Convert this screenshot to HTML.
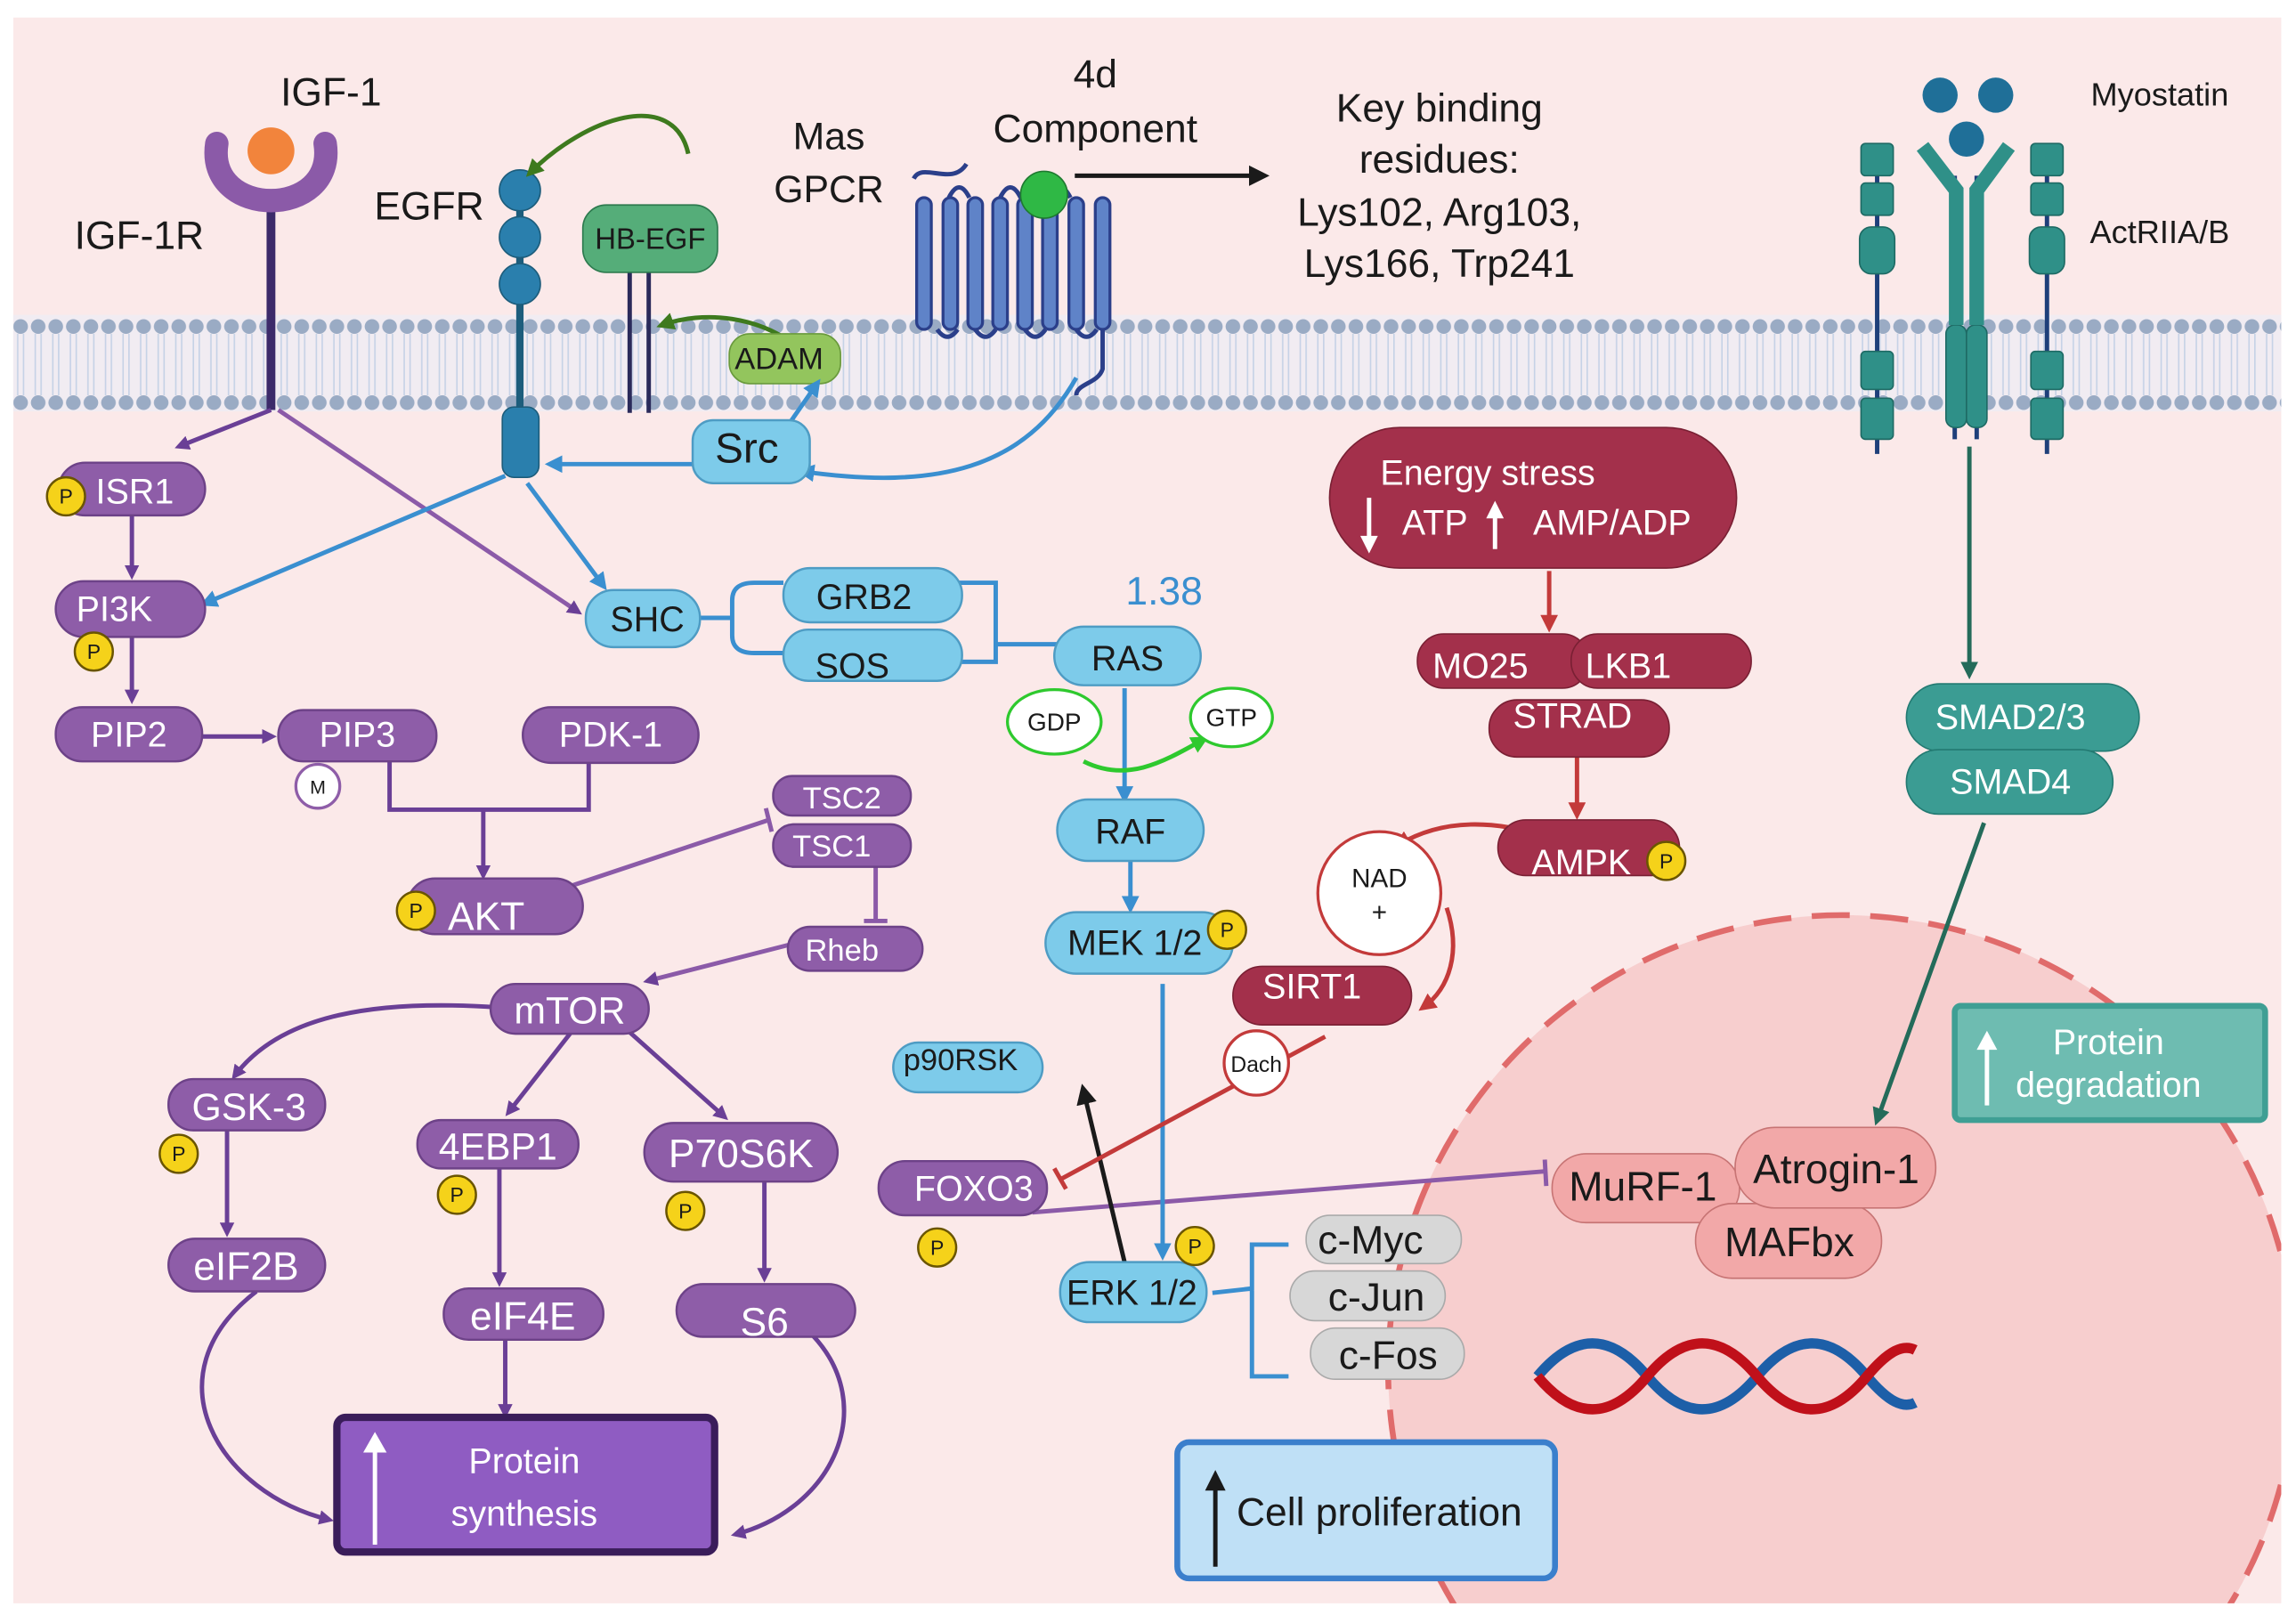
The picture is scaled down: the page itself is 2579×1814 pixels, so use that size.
<!DOCTYPE html>
<html><head><meta charset="utf-8"><style>
html,body{margin:0;padding:0;background:#fff;overflow:hidden;width:2579px;height:1814px;}
svg{display:block;font-family:"Liberation Sans",sans-serif;overflow:hidden;}
.w{fill:#fff;font-size:24px;text-anchor:middle;}
.d{fill:#1a1a1a;text-anchor:middle;}
</style></head><body>
<svg width="2579" height="1814" viewBox="0 0 1568 1103" xmlns="http://www.w3.org/2000/svg">
<defs>
<pattern id="heads" x="8" y="0" width="12" height="1103" patternUnits="userSpaceOnUse">
<circle cx="6" cy="223" r="5" fill="#9aabc4"/>
<circle cx="6" cy="275" r="5" fill="#9aabc4"/>
<line x1="4" y1="228" x2="4" y2="270" stroke="#c6d2e6" stroke-width="1"/>
<line x1="8" y1="228" x2="8" y2="270" stroke="#c6d2e6" stroke-width="1"/>
</pattern>
<clipPath id="bg"><rect x="9" y="12" width="1549" height="1083"/></clipPath>
<marker id="ap" markerWidth="10" markerHeight="10" refX="7" refY="5" orient="auto" markerUnits="userSpaceOnUse"><path d="M0,0 L10,5 L0,10 z" fill="#6a3f96"/></marker>
<marker id="ab" markerWidth="12" markerHeight="12" refX="8" refY="6" orient="auto" markerUnits="userSpaceOnUse"><path d="M0,0 L12,6 L0,12 z" fill="#3a8fd0"/></marker>
<marker id="ag" markerWidth="12" markerHeight="12" refX="8" refY="6" orient="auto" markerUnits="userSpaceOnUse"><path d="M0,0 L12,6 L0,12 z" fill="#3e7a1e"/></marker>
<marker id="ar" markerWidth="12" markerHeight="12" refX="8" refY="6" orient="auto" markerUnits="userSpaceOnUse"><path d="M0,0 L12,6 L0,12 z" fill="#c33a3a"/></marker>
<marker id="at" markerWidth="12" markerHeight="12" refX="8" refY="6" orient="auto" markerUnits="userSpaceOnUse"><path d="M0,0 L12,6 L0,12 z" fill="#246b5a"/></marker>
<marker id="ak" markerWidth="14" markerHeight="14" refX="9" refY="7" orient="auto" markerUnits="userSpaceOnUse"><path d="M0,0 L14,7 L0,14 z" fill="#1a1a1a"/></marker>
<marker id="agg" markerWidth="12" markerHeight="12" refX="8" refY="6" orient="auto" markerUnits="userSpaceOnUse"><path d="M0,0 L12,6 L0,12 z" fill="#2ec92e"/></marker>
</defs>
<rect x="0" y="0" width="1568" height="1103" fill="#fff"/>
<rect x="9" y="12" width="1549" height="1083" fill="#fbe9e9"/>
<rect x="9" y="215" width="1549" height="66" fill="#f1ecf2"/>
<rect x="9" y="215" width="1549" height="66" fill="url(#heads)"/>

<!-- nucleus -->
<g clip-path="url(#bg)">
<circle cx="1258" cy="935" r="310" fill="#f6c4c4" fill-opacity="0.75" stroke="#e06b6b" stroke-width="4" stroke-dasharray="26 14"/>
</g>

<!-- IGF-1R -->
<line x1="185" y1="140" x2="185" y2="280" stroke="#3c2a6a" stroke-width="6"/>
<path d="M148,98 C140,150 230,150 222,98" fill="none" stroke="#8b5aa8" stroke-width="16" stroke-linecap="round"/>
<circle cx="185" cy="103" r="16" fill="#f2843c"/>
<text x="226" y="72" class="d" font-size="27">IGF-1</text>
<text x="95" y="170" class="d" font-size="27">IGF-1R</text>

<!-- EGFR -->
<line x1="355" y1="130" x2="355" y2="310" stroke="#1d5d7c" stroke-width="5"/>
<circle cx="355" cy="130" r="14" fill="#2a7fad" stroke="#1d5d7c"/>
<circle cx="355" cy="162" r="14" fill="#2a7fad" stroke="#1d5d7c"/>
<circle cx="355" cy="194" r="14" fill="#2a7fad" stroke="#1d5d7c"/>
<rect x="343" y="278" width="25" height="48" rx="8" fill="#2a7fad" stroke="#1d5d7c"/>
<text x="293" y="150" class="d" font-size="27">EGFR</text>

<!-- HB-EGF -->
<line x1="430" y1="180" x2="430" y2="282" stroke="#2a2a5a" stroke-width="3"/>
<line x1="443" y1="180" x2="443" y2="282" stroke="#2a2a5a" stroke-width="3"/>
<rect x="398" y="140" width="92" height="46" rx="16" fill="#55ad79" stroke="#2d7a4e"/>
<text x="444" y="170" class="d" font-size="20">HB-EGF</text>
<path d="M470,105 C460,60 400,80 362,118" fill="none" stroke="#3e7a1e" stroke-width="3" marker-end="url(#ag)"/>
<path d="M548,240 C520,215 480,212 452,222" fill="none" stroke="#3e7a1e" stroke-width="3" marker-end="url(#ag)"/>
<rect x="498" y="228" width="76" height="34" rx="14" fill="#93c55d" stroke="#6a9a3d"/>
<text x="532" y="252" class="d" font-size="21">ADAM</text>

<!-- GPCR -->
<text x="566" y="102" class="d" font-size="26">Mas</text>
<text x="566" y="138" class="d" font-size="26">GPCR</text>
<text x="748" y="60" class="d" font-size="27">4d</text>
<text x="748" y="97" class="d" font-size="27">Component</text>
<path d="M624,122 C630,110 650,128 660,112" fill="none" stroke="#2b3f8a" stroke-width="3"/>
<g fill="#5f83c8" stroke="#2b3f8a" stroke-width="2">
<rect x="626" y="135" width="10" height="90" rx="5"/><rect x="644" y="135" width="10" height="90" rx="5"/>
<rect x="661" y="135" width="10" height="90" rx="5"/><rect x="678" y="135" width="10" height="90" rx="5"/>
<rect x="695" y="135" width="10" height="90" rx="5"/><rect x="712" y="135" width="10" height="90" rx="5"/>
<rect x="730" y="135" width="10" height="90" rx="5"/><rect x="748" y="135" width="10" height="90" rx="5"/>
</g>
<path d="M640,225 q7,10 14,0 M666,225 q7,10 14,0 M700,225 q7,10 14,0 M735,225 q7,10 14,0 M648,135 q7,-14 14,0 M683,135 q7,-14 14,0 M717,135 q7,-14 14,0" fill="none" stroke="#2b3f8a" stroke-width="3"/>
<path d="M753,225 L753,252 C750,262 735,262 735,270" fill="none" stroke="#2b3f8a" stroke-width="3"/>
<circle cx="713" cy="133" r="16" fill="#2fb845" stroke="#1f7a30"/>
<line x1="734" y1="120" x2="862" y2="120" stroke="#1a1a1a" stroke-width="3" marker-end="url(#ak)"/>
<text x="983" y="83" class="d" font-size="27">Key binding</text>
<text x="983" y="118" class="d" font-size="27">residues:</text>
<text x="983" y="154" class="d" font-size="27">Lys102, Arg103,</text>
<text x="983" y="189" class="d" font-size="27">Lys166, Trp241</text>

<!-- Myostatin -->
<circle cx="1325" cy="65" r="12" fill="#1f6f98"/><circle cx="1363" cy="65" r="12" fill="#1f6f98"/><circle cx="1343" cy="95" r="12" fill="#1f6f98"/>
<text x="1475" y="72" class="d" font-size="22">Myostatin</text>
<text x="1475" y="166" class="d" font-size="22">ActRIIA/B</text>
<g stroke="#1e3f7a" stroke-width="3"><line x1="1282" y1="100" x2="1282" y2="310"/><line x1="1398" y1="100" x2="1398" y2="310"/><line x1="1335" y1="120" x2="1335" y2="300"/><line x1="1350" y1="120" x2="1350" y2="300"/></g>
<g fill="#2f9088" stroke="#1e6a64">
<rect x="1271" y="98" width="22" height="22" rx="3"/><rect x="1271" y="125" width="22" height="22" rx="3"/><rect x="1270" y="155" width="24" height="32" rx="8"/><rect x="1271" y="240" width="22" height="26" rx="3"/><rect x="1271" y="272" width="22" height="28" rx="3"/>
<rect x="1387" y="98" width="22" height="22" rx="3"/><rect x="1387" y="125" width="22" height="22" rx="3"/><rect x="1386" y="155" width="24" height="32" rx="8"/><rect x="1387" y="240" width="22" height="26" rx="3"/><rect x="1387" y="272" width="22" height="28" rx="3"/>
<rect x="1329" y="222" width="14" height="70" rx="6"/><rect x="1343" y="222" width="14" height="70" rx="6"/>
</g>
<path d="M1313,100 L1336,130 L1336,222 M1372,100 L1350,130 L1350,222" fill="none" stroke="#2f9088" stroke-width="10"/>
<line x1="1345" y1="305" x2="1345" y2="460" stroke="#246b5a" stroke-width="3" marker-end="url(#at)"/>

<!-- connectors purple -->
<g stroke="#6a3f96" stroke-width="3" fill="none">
<line x1="185" y1="280" x2="122" y2="305" marker-end="url(#ap)"/>
<line x1="190" y1="280" x2="395" y2="418" stroke="#8b5aa8" marker-end="url(#ap)"/>
<line x1="90" y1="352" x2="90" y2="393" marker-end="url(#ap)"/>
<line x1="90" y1="435" x2="90" y2="478" marker-end="url(#ap)"/>
<line x1="138" y1="503" x2="186" y2="503" marker-end="url(#ap)"/>
<path d="M266,520 L266,553 L402,553 L402,520"/>
<line x1="330" y1="553" x2="330" y2="598" marker-end="url(#ap)"/>
<line x1="390" y1="605" x2="525" y2="560" stroke="#8b5aa8"/><line x1="523" y1="552" x2="527" y2="568" stroke="#8b5aa8"/>
<line x1="598" y1="592" x2="598" y2="628" stroke="#8b5aa8"/><line x1="590" y1="629" x2="606" y2="629" stroke="#8b5aa8"/>
<line x1="540" y1="645" x2="442" y2="670" stroke="#8b5aa8" marker-end="url(#ap)"/>
<path d="M340,688 C250,682 190,695 160,735" marker-end="url(#ap)"/>
<line x1="390" y1="705" x2="347" y2="760" marker-end="url(#ap)"/>
<line x1="430" y1="705" x2="495" y2="763" marker-end="url(#ap)"/>
<line x1="155" y1="772" x2="155" y2="842" marker-end="url(#ap)"/>
<line x1="341" y1="798" x2="341" y2="876" marker-end="url(#ap)"/>
<line x1="522" y1="807" x2="522" y2="873" marker-end="url(#ap)"/>
<line x1="345" y1="915" x2="345" y2="966" marker-end="url(#ap)"/>
<path d="M175,882 C100,940 150,1020 225,1038" marker-end="url(#ap)"/>
<path d="M555,912 C600,960 570,1030 502,1048" marker-end="url(#ap)"/>
<line x1="705" y1="828" x2="1055" y2="800" stroke="#8b5aa8"/><line x1="1055" y1="792" x2="1056" y2="810" stroke="#8b5aa8"/>
</g>
<!-- blue connectors -->
<g stroke="#3a8fd0" stroke-width="3" fill="none">
<line x1="475" y1="317" x2="376" y2="317" marker-end="url(#ab)"/>
<line x1="535" y1="295" x2="558" y2="262" marker-end="url(#ab)"/>
<path d="M735,258 C700,320 640,335 548,322" marker-end="url(#ab)"/>
<line x1="345" y1="325" x2="140" y2="412" marker-end="url(#ab)"/>
<line x1="360" y1="330" x2="412" y2="400" marker-end="url(#ab)"/>
<path d="M478,422 L500,422 M515,398 Q500,398 500,410 L500,434 Q500,446 515,446 L535,446 M515,398 L535,398"/>
<path d="M645,398 L680,398 L680,440 L722,440 M645,452 L680,452 L680,440"/>
<line x1="768" y1="470" x2="768" y2="545" marker-end="url(#ab)"/>
<path d="M740,520 C770,535 795,520 822,505" stroke="#2ec92e" marker-end="url(#agg)"/>
<line x1="772" y1="588" x2="772" y2="620" marker-end="url(#ab)"/>
<line x1="794" y1="672" x2="794" y2="857" marker-end="url(#ab)"/>
<path d="M880,850 L855,850 L855,880 L828,883 M855,880 L855,940 L880,940"/>
</g>
<line x1="768" y1="862" x2="740" y2="745" stroke="#1a1a1a" stroke-width="3" marker-end="url(#ak)"/>
<!-- red connectors -->
<g stroke="#c33a3a" stroke-width="3" fill="none">
<line x1="1058" y1="390" x2="1058" y2="428" marker-end="url(#ar)"/>
<line x1="1077" y1="517" x2="1077" y2="556" marker-end="url(#ar)"/>
<path d="M1030,565 C1000,560 975,565 955,577" marker-end="url(#ar)"/>
<path d="M988,620 C998,650 990,675 972,688" marker-end="url(#ar)"/>
<line x1="905" y1="708" x2="725" y2="805"/><line x1="720" y1="798" x2="728" y2="812"/>
</g>
<line x1="1355" y1="562" x2="1282" y2="765" stroke="#246b5a" stroke-width="3" marker-end="url(#at)"/>

<!-- purple nodes -->
<g fill="#8e5da8" stroke="#6d4288" stroke-width="1.5">
<rect x="40" y="316" width="100" height="36" rx="18"/>
<rect x="38" y="397" width="102" height="38" rx="19"/>
<rect x="38" y="483" width="100" height="37" rx="18"/>
<rect x="190" y="485" width="108" height="35" rx="17"/>
<rect x="357" y="483" width="120" height="38" rx="19"/>
<rect x="528" y="530" width="94" height="27" rx="13"/>
<rect x="528" y="563" width="94" height="29" rx="14"/>
<rect x="278" y="600" width="120" height="38" rx="19"/>
<rect x="538" y="633" width="92" height="30" rx="15"/>
<rect x="335" y="672" width="108" height="34" rx="17"/>
<rect x="115" y="737" width="107" height="35" rx="17"/>
<rect x="285" y="765" width="110" height="33" rx="16"/>
<rect x="440" y="767" width="132" height="40" rx="20"/>
<rect x="115" y="846" width="107" height="36" rx="18"/>
<rect x="303" y="880" width="109" height="35" rx="17"/>
<rect x="462" y="877" width="122" height="36" rx="18"/>
<rect x="600" y="793" width="115" height="37" rx="18"/>
</g>
<g class="w">
<text x="92" y="344">ISR1</text><text x="78" y="424">PI3K</text><text x="88" y="510">PIP2</text>
<text x="244" y="510">PIP3</text><text x="417" y="510">PDK-1</text>
<text x="575" y="552" font-size="21">TSC2</text><text x="568" y="585" font-size="21">TSC1</text>
<text x="332" y="635" font-size="27">AKT</text><text x="575" y="656" font-size="21">Rheb</text>
<text x="389" y="699" font-size="26">mTOR</text><text x="170" y="765" font-size="26">GSK-3</text>
<text x="340" y="792" font-size="26">4EBP1</text><text x="506" y="797" font-size="27">P70S6K</text>
<text x="168" y="874" font-size="27">eIF2B</text><text x="357" y="908" font-size="27">eIF4E</text>
<text x="522" y="912" font-size="27">S6</text><text x="665" y="820">FOXO3</text>
</g>
<rect x="230" y="968" width="258" height="92" rx="6" fill="#8f5cc2" stroke="#3a1d5a" stroke-width="5"/>
<line x1="256" y1="1055" x2="256" y2="990" stroke="#fff" stroke-width="3"/><path d="M248,992 L256,978 L264,992z" fill="#fff"/>
<text x="358" y="1006" class="w" font-size="27">Protein</text><text x="358" y="1042" class="w" font-size="27">synthesis</text>

<!-- blue nodes -->
<g fill="#7dcbea" stroke="#4e9cc4" stroke-width="1.5">
<rect x="473" y="287" width="80" height="43" rx="14"/>
<rect x="400" y="403" width="78" height="39" rx="19"/>
<rect x="535" y="388" width="122" height="37" rx="18"/>
<rect x="535" y="430" width="122" height="35" rx="17"/>
<rect x="720" y="428" width="100" height="40" rx="20"/>
<rect x="722" y="546" width="100" height="42" rx="21"/>
<rect x="714" y="623" width="128" height="42" rx="21"/>
<rect x="724" y="862" width="100" height="41" rx="20"/>
<rect x="610" y="712" width="102" height="34" rx="17"/>
</g>
<g class="d" font-size="24">
<text x="510" y="316" font-size="29">Src</text><text x="442" y="431">SHC</text>
<text x="590" y="416">GRB2</text><text x="582" y="463">SOS</text><text x="770" y="458">RAS</text>
<text x="772" y="576">RAF</text><text x="775" y="652">MEK 1/2</text><text x="773" y="891">ERK 1/2</text>
<text x="656" y="731" font-size="21">p90RSK</text>
</g>
<text x="795" y="413" fill="#3a8fd0" font-size="27" text-anchor="middle">1.38</text>
<ellipse cx="720" cy="493" rx="32" ry="22" fill="#fff" stroke="#2ec92e" stroke-width="2"/><text x="720" y="499" class="d" font-size="17">GDP</text>
<ellipse cx="841" cy="490" rx="28" ry="20" fill="#fff" stroke="#2ec92e" stroke-width="2"/><text x="841" y="496" class="d" font-size="17">GTP</text>

<!-- gray -->
<g fill="#d7d7d7" stroke="#aaa"><rect x="892" y="830" width="106" height="33" rx="16"/><rect x="881" y="868" width="106" height="34" rx="17"/><rect x="895" y="907" width="105" height="35" rx="17"/></g>
<g class="d" font-size="27"><text x="936" y="856">c-Myc</text><text x="940" y="895">c-Jun</text><text x="948" y="935">c-Fos</text></g>

<!-- red nodes -->
<rect x="908" y="292" width="278" height="96" rx="48" fill="#a3304b" stroke="#7a2034"/>
<text x="1016" y="331" class="w" font-size="26">Energy stress</text>
<text x="980" y="365" class="w" font-size="26">ATP</text>
<text x="1101" y="365" class="w" font-size="26">AMP/ADP</text>
<g stroke="#fff" stroke-width="3"><line x1="935" y1="340" x2="935" y2="370"/><line x1="1021" y1="350" x2="1021" y2="375"/></g>
<path d="M929,366 L935,378 L941,366z M1015,354 L1021,342 L1027,354z" fill="#fff"/>
<g fill="#a3304b" stroke="#7a2034">
<rect x="968" y="433" width="117" height="37" rx="18"/><rect x="1073" y="433" width="123" height="37" rx="18"/>
<rect x="1017" y="478" width="123" height="39" rx="19"/><rect x="1023" y="560" width="124" height="38" rx="19"/>
<rect x="842" y="660" width="122" height="40" rx="20"/>
</g>
<g class="w" font-size="21"><text x="1011" y="463">MO25</text><text x="1112" y="463">LKB1</text><text x="1074" y="497">STRAD</text><text x="1080" y="597">AMPK</text><text x="896" y="682">SIRT1</text></g>
<circle cx="942" cy="610" r="42" fill="#fff" stroke="#c33a3a" stroke-width="2"/>
<text x="942" y="606" class="d" font-size="18">NAD</text><text x="942" y="629" class="d" font-size="18">+</text>
<circle cx="858" cy="726" r="22" fill="#fff" stroke="#c33a3a" stroke-width="2"/><text x="858" y="732" class="d" font-size="15">Dach</text>

<!-- teal -->
<rect x="1302" y="467" width="159" height="46" rx="23" fill="#3b9c93" stroke="#237a72"/>
<rect x="1302" y="512" width="141" height="44" rx="22" fill="#3b9c93" stroke="#237a72"/>
<text x="1373" y="498" class="w" font-size="27">SMAD2/3</text><text x="1373" y="542" class="w" font-size="27">SMAD4</text>
<rect x="1335" y="687" width="212" height="78" rx="4" fill="#6ebcb1" stroke="#3f9f94" stroke-width="4"/>
<line x1="1357" y1="755" x2="1357" y2="715" stroke="#fff" stroke-width="3"/><path d="M1350,717 L1357,704 L1364,717z" fill="#fff"/>
<text x="1440" y="720" class="w" font-size="24">Protein</text><text x="1440" y="749" class="w" font-size="24">degradation</text>

<!-- E3 ligases -->
<g fill="#f2a8a8" stroke="#c77474"><rect x="1060" y="788" width="128" height="47" rx="23"/><rect x="1158" y="822" width="127" height="51" rx="25"/><rect x="1185" y="770" width="137" height="55" rx="27"/></g>
<g class="d" font-size="28"><text x="1122" y="820">MuRF-1</text><text x="1254" y="808">Atrogin-1</text><text x="1222" y="858">MAFbx</text></g>
<!-- DNA -->
<path d="M1050,940 C1075,910 1100,910 1125,940 C1150,970 1175,970 1200,940 C1225,910 1250,910 1275,940 C1290,958 1300,962 1308,958" fill="none" stroke="#1d5fa8" stroke-width="7"/>
<path d="M1050,940 C1075,970 1100,970 1125,940 C1150,910 1175,910 1200,940 C1225,970 1250,970 1275,940 C1290,922 1300,918 1308,922" fill="none" stroke="#c0101a" stroke-width="7"/>

<!-- Cell proliferation -->
<rect x="804" y="985" width="258" height="93" rx="8" fill="#bfe0f6" stroke="#3b7fcc" stroke-width="4"/>
<line x1="830" y1="1070" x2="830" y2="1015" stroke="#1a1a1a" stroke-width="3"/><path d="M823,1018 L830,1004 L837,1018z" fill="#1a1a1a"/>
<text x="942" y="1042" class="d" font-size="27">Cell proliferation</text>

<!-- P badges (on top) -->
<g fill="#f5d21a" stroke="#6a5500" stroke-width="1.5">
<circle cx="45" cy="339" r="13"/><circle cx="64" cy="445" r="13"/><circle cx="284" cy="622" r="13"/>
<circle cx="122" cy="788" r="13"/><circle cx="312" cy="816" r="13"/><circle cx="468" cy="827" r="13"/>
<circle cx="640" cy="852" r="13"/><circle cx="838" cy="635" r="13"/><circle cx="816" cy="851" r="13"/><circle cx="1138" cy="588" r="13"/>
</g>
<g class="d" font-size="14"><text x="45" y="344">P</text><text x="64" y="450">P</text><text x="284" y="627">P</text><text x="122" y="793">P</text><text x="312" y="821">P</text><text x="468" y="832">P</text><text x="640" y="857">P</text><text x="838" y="640">P</text><text x="816" y="856">P</text><text x="1138" y="593">P</text></g>
<circle cx="217" cy="537" r="15" fill="#fff" stroke="#8e5da8" stroke-width="2"/><text x="217" y="542" class="d" font-size="13">M</text>
</svg>
</body></html>
